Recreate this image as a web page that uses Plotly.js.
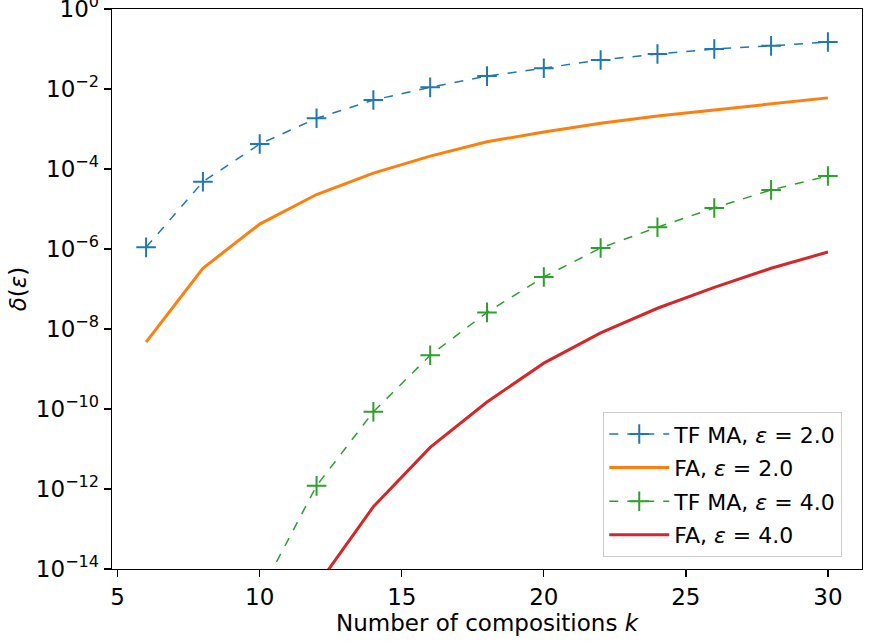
<!DOCTYPE html>
<html>
<head>
<meta charset="utf-8">
<script src="https://cdn.plot.ly/plotly-3.0.1.min.js"></script>
<style>body{margin:0;padding:0;background:#fff}</style>
</head>
<body>
<div id="chart" style="width:871px;height:641px"></div>
<script>
const kAll = [6, 8, 10, 12, 14, 16, 18, 20, 22, 24, 26, 28, 30];
const tfma2 = [1.1e-6, 4.8e-5, 4.2e-4, 1.85e-3, 5.3e-3, 1.1e-2, 2.1e-2, 3.3e-2, 5.3e-2, 7.5e-2, 0.1, 0.12, 0.15];
const fa2 = [4.7e-9, 3.3e-7, 4.2e-6, 2.3e-5, 7.9e-5, 2.1e-4, 4.8e-4, 8.4e-4, 1.4e-3, 2.1e-3, 3.0e-3, 4.2e-3, 6.0e-3];
const kTf4 = [10, 12, 14, 16, 18, 20, 22, 24, 26, 28, 30];
const tfma4 = [2.4e-15, 1.2e-12, 8.5e-11, 2.2e-9, 2.6e-8, 2.0e-7, 1.06e-6, 3.5e-6, 1.06e-5, 3.0e-5, 6.7e-5];
const kFa4 = [12, 14, 16, 18, 20, 22, 24, 26, 28, 30];
const fa4 = [3.7e-15, 3.6e-13, 1.1e-11, 1.5e-10, 1.4e-9, 8.0e-9, 3.3e-8, 1.1e-7, 3.3e-7, 8.4e-7];
const yTickVals = [1, 1e-2, 1e-4, 1e-6, 1e-8, 1e-10, 1e-12, 1e-14];
const yTickText = ['10<sup>0</sup>', '10<sup>−2</sup>', '10<sup>−4</sup>', '10<sup>−6</sup>', '10<sup>−8</sup>', '10<sup>−10</sup>', '10<sup>−12</sup>', '10<sup>−14</sup>'];
const xTickVals = [5, 10, 15, 20, 25, 30];
const names = ['TF MA, <i>ε</i> = 2.0', 'FA, <i>ε</i> = 2.0', 'TF MA, <i>ε</i> = 4.0', 'FA, <i>ε</i> = 4.0'];

const traces = [
  {x: kAll, y: tfma2, name: names[0], legendgroup: 'a', mode: 'lines+markers',
   line: {color: '#1f77b4', width: 1.5, dash: 'dash'},
   marker: {symbol: 'cross-thin-open', size: 14, line: {color: '#1f77b4', width: 2}}},
  {x: kAll, y: fa2, name: names[1], legendgroup: 'b', mode: 'lines',
   line: {color: '#ff7f0e', width: 3}},
  {x: kTf4, y: tfma4, name: names[2], legendgroup: 'c', mode: 'lines+markers',
   line: {color: '#2ca02c', width: 1.5, dash: 'dash'},
   marker: {symbol: 'cross-thin-open', size: 14, line: {color: '#2ca02c', width: 2}}},
  {x: kFa4, y: fa4, name: names[3], legendgroup: 'd', mode: 'lines',
   line: {color: '#d62728', width: 3}}
];

const layout = {
  width: 871, height: 641,
  margin: {l: 112, r: 9, t: 9, b: 72},
  paper_bgcolor: '#fff', plot_bgcolor: '#fff',
  font: {family: 'DejaVu Sans', color: '#000', size: 23},
  showlegend: true,
  xaxis: {
    range: [4.8, 31.2], tickvals: xTickVals, ticks: 'outside', ticklen: 7, tickwidth: 1.3,
    tickcolor: '#000', showline: true, linecolor: '#000', linewidth: 1.3, mirror: true,
    showgrid: false, zeroline: false, tickfont: {size: 23},
    title: {text: 'Number of compositions <i>k</i>', font: {size: 23}, standoff: 6}
  },
  yaxis: {
    type: 'log', range: [-14, 0], tickvals: yTickVals, ticktext: yTickText,
    ticks: 'outside', ticklen: 7, tickwidth: 1.3, tickcolor: '#000',
    showline: true, linecolor: '#000', linewidth: 1.3, mirror: true,
    showgrid: false, zeroline: false, tickfont: {size: 23}, ticklabeloverflow: 'allow',
    title: {text: '<i>δ</i>(<i>ε</i>)', font: {size: 23}, standoff: 2}
  },
  legend: {
    x: 0.655, y: 0.28, xanchor: 'left', yanchor: 'top',
    bgcolor: 'rgba(255,255,255,0.9)', bordercolor: '#ccc', borderwidth: 1,
    font: {size: 22}, tracegroupgap: 2, itemwidth: 60
  }
};

Plotly.newPlot('chart', traces, layout, {displayModeBar: false, staticPlot: true});
</script>
</body>
</html>
